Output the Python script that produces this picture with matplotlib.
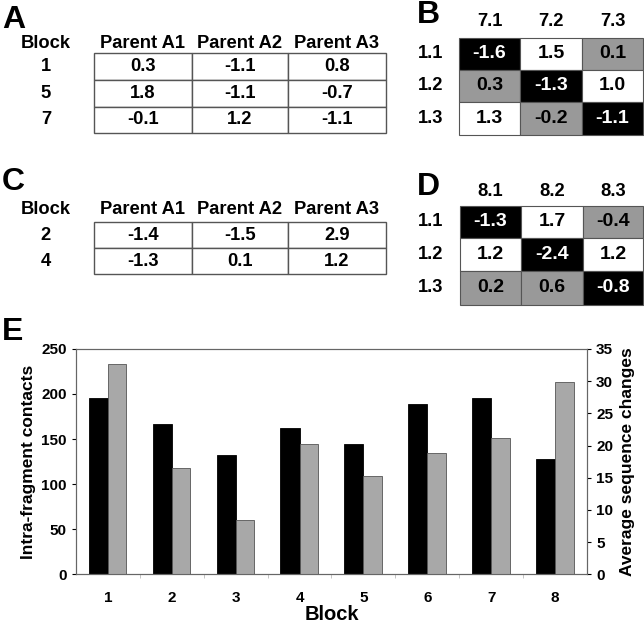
import matplotlib.pyplot as plt
from matplotlib.patches import Rectangle
import numpy as np

plt.rcParams['font.family'] = ['Liberation Sans', 'DejaVu Sans']
plt.rcParams['font.weight'] = 'bold'
plt.rcParams['axes.labelweight'] = 'bold'

# panel A / C tables
parents = ['Parent A1', 'Parent A2', 'Parent A3']
blocksA = ['1', '5', '7']
valsA = [[0.3, -1.1, 0.8],
         [1.8, -1.1, -0.7],
         [-0.1, 1.2, -1.1]]
blocksC = ['2', '4']
valsC = [[-1.4, -1.5, 2.9],
         [-1.3, 0.1, 1.2]]

# panel B / D heat tables
rowsBD = ['1.1', '1.2', '1.3']
colsB = ['7.1', '7.2', '7.3']
valsB = [[-1.6, 1.5, 0.1],
         [0.3, -1.3, 1.0],
         [1.3, -0.2, -1.1]]
shadeB = [['k', 'w', 'g'],
          ['g', 'k', 'w'],
          ['w', 'g', 'k']]
colsD = ['8.1', '8.2', '8.3']
valsD = [[-1.3, 1.7, -0.4],
         [1.2, -2.4, 1.2],
         [0.2, 0.6, -0.8]]
shadeD = [['k', 'w', 'g'],
          ['w', 'k', 'w'],
          ['g', 'g', 'k']]

# panel E bars
blocks = [1, 2, 3, 4, 5, 6, 7, 8]
contacts = [196, 167, 132, 162, 145, 189, 195, 128]
seqChanges = [32.6, 16.5, 8.4, 20.2, 15.2, 18.8, 21.2, 29.9]

fig = plt.figure(figsize=(6.44, 6.23), dpi=100)

# overlay in pixel coords for the tables
ov = fig.add_axes([0, 0, 1, 1])
ov.set_xlim(0, 644)
ov.set_ylim(623, 0)
ov.axis('off')

FS = 13.2

def fmt(v):
    return '%.1f' % v

def plain_table(xs, ys, headerY, rowLabels, vals):
    ov.text(46, headerY, 'Block', ha='center', va='center', fontsize=FS, fontweight='bold')
    for j, p in enumerate(parents):
        ov.text((xs[j] + xs[j + 1]) / 2, headerY, p, ha='center', va='center',
                fontsize=FS, fontweight='bold')
    for i, lab in enumerate(rowLabels):
        cy = (ys[i] + ys[i + 1]) / 2
        ov.text(46, cy, lab, ha='center', va='center', fontsize=FS, fontweight='bold')
        for j in range(len(parents)):
            ov.add_patch(Rectangle((xs[j], ys[i]), xs[j + 1] - xs[j], ys[i + 1] - ys[i],
                                   facecolor='white', edgecolor='#555555', lw=1))
            ov.text((xs[j] + xs[j + 1]) / 2, cy, fmt(vals[i][j]), ha='center', va='center',
                    fontsize=FS, fontweight='bold')

def heat_table(xs, ys, labelY, colLabels, vals, shade):
    fc = {'k': 'black', 'w': 'white', 'g': '#999999'}
    tc = {'k': 'white', 'w': 'black', 'g': 'black'}
    for j, c in enumerate(colLabels):
        ov.text((xs[j] + xs[j + 1]) / 2, labelY, c, ha='center', va='center',
                fontsize=FS, fontweight='bold')
    for i, r in enumerate(rowsBD):
        cy = (ys[i] + ys[i + 1]) / 2
        ov.text(431, cy, r, ha='center', va='center', fontsize=FS, fontweight='bold')
        for j in range(len(colLabels)):
            s = shade[i][j]
            ov.add_patch(Rectangle((xs[j], ys[i]), xs[j + 1] - xs[j], ys[i + 1] - ys[i],
                                   facecolor=fc[s], edgecolor='#555555', lw=0.8))
            ov.text((xs[j] + xs[j + 1]) / 2, cy, fmt(vals[i][j]), ha='center', va='center',
                    fontsize=14, fontweight='bold', color=tc[s])

plain_table([94, 192, 288, 386], [53, 80, 107, 133], 43, blocksA, valsA)
plain_table([94, 192, 288, 386], [222, 248, 274], 210, blocksC, valsC)
heat_table([459, 520, 582, 643], [37.5, 70, 102, 135], 22, colsB, valsB, shadeB)
heat_table([460, 521, 583, 643], [206, 238, 271, 305], 191, colsD, valsD, shadeD)

for letter, x, y in [('A', 2, 28), ('B', 417, 23), ('C', 2, 190), ('D', 417, 195), ('E', 2, 340)]:
    ov.text(x, y, letter, ha='left', va='baseline', fontsize=23, fontweight='bold')

# panel E
ax = fig.add_axes([0.118, 0.078, 0.7935, 0.362])
x = np.array(blocks)
ax.bar(x - 0.15, contacts, width=0.3, color='black', edgecolor='black', lw=0.6)
ax.set_xlim(0.5, 8.5)
ax.set_ylim(0, 250)
ax.set_yticks([0, 50, 100, 150, 200, 250])
ax.set_xticks(blocks)
ax.set_xticks(np.arange(1.5, 8.5, 1), minor=True)
ax.tick_params(axis='x', which='major', length=0, pad=12, labelsize=11)
ax.tick_params(axis='x', which='minor', length=3, color='#bbbbbb')
ax.tick_params(axis='y', length=3, labelsize=11)
ax.set_ylabel('Intra-fragment contacts', fontsize=12.5, labelpad=4)
ax.set_xlabel('Block', fontsize=14.5)
ax.xaxis.set_label_coords(0.5, -0.135)
for sp in ax.spines.values():
    sp.set_color('#666666')

ax2 = ax.twinx()
ax2.bar(x + 0.145, seqChanges, width=0.29, color='#a8a8a8', edgecolor='#555555', lw=0.6)
ax2.set_ylim(0, 35)
ax2.set_yticks([0, 5, 10, 15, 20, 25, 30, 35])
ax2.tick_params(axis='y', length=3, labelsize=11)
ax2.set_ylabel('Average sequence changes', fontsize=12.5, labelpad=5)
for sp in ax2.spines.values():
    sp.set_color('#666666')

plt.savefig('out.png', dpi=100)
